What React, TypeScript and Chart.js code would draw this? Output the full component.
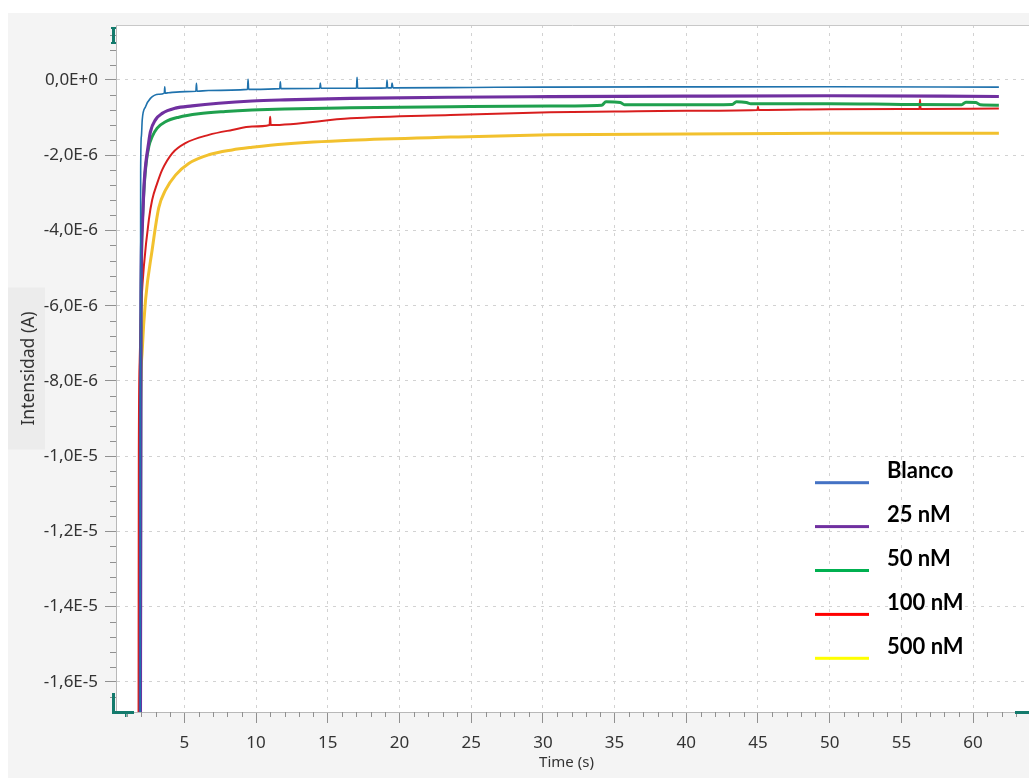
import React, { useEffect, useRef } from "react";
import { Chart, registerables } from "chart.js";

Chart.register(...registerables);

// ---- data (time in s, current in µA) ----
const seriesNames = ["Blanco", "25 nM", "50 nM", "100 nM", "500 nM"];
const lineColors = ["#1f72ad", "#7030a0", "#1fa04e", "#d81e1e", "#f2c12e"];
const legendColors = ["#4472c4", "#7030a0", "#00b050", "#ff0000", "#ffff00"];
const lineWidths = [1.6, 3.2, 3, 2, 3];

const blancoT = [1.92, 1.95, 2.0, 2.06, 2.29, 2.63, 3.21, 3.6, 3.63, 3.66, 3.91, 5.07, 5.8, 5.84, 5.88, 6.68, 9.4, 9.44, 9.48, 9.72, 11.65, 11.69, 11.73, 14.44, 14.48, 14.52, 17.0, 17.04, 17.08, 19.09, 19.13, 19.17, 19.44, 19.48, 19.55, 25, 30, 40, 50, 61.8];
const blancoI = [-18, -2.4, -1.5, -1.06, -0.71, -0.49, -0.38, -0.35, -0.18, -0.35, -0.34, -0.31, -0.3, -0.09, -0.3, -0.28, -0.25, 0.02, -0.25, -0.25, -0.23, -0.05, -0.23, -0.22, -0.08, -0.22, -0.22, 0.07, -0.22, -0.21, 0.0, -0.21, -0.21, -0.08, -0.21, -0.2, -0.19, -0.185, -0.18, -0.19];

const nM25T = [1.93, 1.97, 2.05, 2.2, 2.33, 2.47, 2.63, 2.98, 3.45, 4.38, 5.54, 7.39, 9.72, 12, 16.58, 23.55, 30.5, 40, 50, 61.8];
const nM25I = [-18, -6.0, -4.0, -2.7, -2.15, -1.77, -1.38, -1.06, -0.89, -0.75, -0.69, -0.62, -0.56, -0.53, -0.49, -0.46, -0.445, -0.43, -0.42, -0.44];

const nM50T = [1.93, 1.97, 2.1, 2.2, 2.33, 2.52, 2.75, 3.1, 3.68, 4.61, 6.0, 7.86, 9.72, 12, 16.58, 23.55, 30.5, 34.1, 34.4, 35.4, 35.7, 40, 43.2, 43.5, 44.2, 44.5, 50, 55, 59.2, 59.5, 60.2, 60.5, 61.8];
const nM50I = [-18, -7, -3.5, -2.8, -2.22, -1.77, -1.51, -1.28, -1.11, -0.99, -0.9, -0.84, -0.8, -0.77, -0.74, -0.71, -0.69, -0.67, -0.58, -0.6, -0.66, -0.66, -0.65, -0.58, -0.6, -0.63, -0.63, -0.65, -0.66, -0.59, -0.6, -0.66, -0.67];

const nM100T = [1.8, 1.82, 1.88, 1.95, 2.01, 2.17, 2.52, 2.75, 3.1, 3.45, 4.15, 5.07, 6.7, 8.33, 9.72, 10.94, 10.98, 11.02, 16.58, 23.55, 30.5, 35, 40, 44.96, 45.0, 45.04, 50, 55, 56.26, 56.3, 56.34, 61.8];
const nM100I = [-18, -10, -7.5, -6.4, -5.85, -4.97, -3.72, -3.19, -2.75, -2.39, -1.95, -1.68, -1.46, -1.33, -1.24, -1.2, -0.98, -1.2, -1.02, -0.93, -0.86, -0.84, -0.82, -0.8, -0.71, -0.8, -0.78, -0.77, -0.77, -0.53, -0.77, -0.76];

const nM500T = [1.89, 1.92, 1.94, 2.06, 2.29, 2.75, 3.21, 3.68, 4.38, 5.3, 6.7, 8.33, 9.72, 12, 16.58, 23.55, 30.5, 40, 50, 61.8];
const nM500I = [-18, -10, -8.69, -7.18, -5.85, -4.52, -3.4, -2.93, -2.53, -2.22, -1.99, -1.86, -1.79, -1.7, -1.6, -1.52, -1.46, -1.44, -1.42, -1.42];

const seriesT = [blancoT, nM25T, nM50T, nM100T, nM500T];
const seriesI = [blancoI, nM25I, nM50I, nM100I, nM500I];

const xTickValues = [5, 10, 15, 20, 25, 30, 35, 40, 45, 50, 55, 60];
const yTickValues = [0, -2e-6, -4e-6, -6e-6, -8e-6, -1e-5, -1.2e-5, -1.4e-5, -1.6e-5];
const yTickLabels = ["0,0E+0", "-2,0E-6", "-4,0E-6", "-6,0E-6", "-8,0E-6", "-1,0E-5", "-1,2E-5", "-1,4E-5", "-1,6E-5"];
const xTitle = "Time (s)";
const yTitle = "Intensidad (A)";

const FONT = "'Noto Sans', 'Open Sans', sans-serif";

const decorPlugin = {
  id: "decor",
  beforeDraw(chart: any) {
    const { ctx, chartArea: a } = chart;
    ctx.save();
    const cy = (a.top + a.bottom) / 2;
    ctx.fillStyle = "#ececec";
    ctx.fillRect(0, cy - 81, 37, 162);
    ctx.fillStyle = "#ffffff";
    ctx.fillRect(a.left, a.top, a.right - a.left, a.bottom - a.top);
    ctx.restore();
  },
  afterDraw(chart: any) {
    const { ctx, chartArea: a, scales } = chart;
    const xs = scales.x;
    const ys = scales.y;
    ctx.save();
    // minor ticks
    ctx.strokeStyle = "#909090";
    ctx.lineWidth = 1;
    ctx.beginPath();
    for (let v = 1; v <= 64; v++) {
      if (v % 5 === 0) continue;
      const px = Math.round(xs.getPixelForValue(v)) + 0.5;
      if (px < a.left || px > a.right) continue;
      ctx.moveTo(px, a.bottom);
      ctx.lineTo(px, a.bottom + 5);
    }
    for (let k = -45; k <= 5; k++) {
      if (k % 5 === 0) continue;
      const py = Math.round(ys.getPixelForValue(k * 0.4e-6)) + 0.5;
      if (py < a.top || py > a.bottom) continue;
      ctx.moveTo(a.left - 6, py);
      ctx.lineTo(a.left, py);
    }
    ctx.stroke();
    // top border
    ctx.strokeStyle = "#c8c8c8";
    ctx.beginPath();
    ctx.moveTo(a.left, a.top + 0.5);
    ctx.lineTo(a.right, a.top + 0.5);
    ctx.stroke();
    // teal range handles
    ctx.fillStyle = "#137a6c";
    ctx.fillRect(a.left - 4, a.top + 2, 3, 17);
    ctx.fillRect(a.left - 5, a.top + 2, 5, 2);
    ctx.fillRect(a.left - 5, a.top + 17, 5, 2);
    ctx.fillRect(a.left - 4, a.bottom - 19, 3, 21);
    ctx.fillRect(a.left - 4, a.bottom - 1, 22, 3);
    ctx.fillRect(a.left + 9, a.bottom, 1.5, 5);
    ctx.fillRect(a.right - 14, a.bottom - 1, 14, 3);
    // x title (drawn manually to match position)
    ctx.font = "15px " + FONT;
    ctx.fillStyle = "#333333";
    ctx.textAlign = "center";
    ctx.textBaseline = "middle";
    ctx.fillText(xTitle, (a.left + a.right) / 2 - 6, a.bottom + 51);
    // legend
    ctx.font = "bold 22px Lato, 'Open Sans', sans-serif";
    ctx.textBaseline = "alphabetic";
    ctx.textAlign = "left";
    for (let i = 0; i < seriesNames.length; i++) {
      const ly = a.top + 457.7 + i * 43.9;
      ctx.fillStyle = legendColors[i];
      ctx.fillRect(a.left + 699, ly - 1.5, 54, 3);
      ctx.fillStyle = "#000000";
      ctx.fillText(seriesNames[i], a.left + 771, a.top + 453 + i * 43.9);
    }
    ctx.restore();
  },
};

export default function App() {
  const ref = useRef<HTMLCanvasElement | null>(null);
  useEffect(() => {
    if (!ref.current) return;
    const datasets = seriesNames.map((name, i) => ({
      label: name,
      data: seriesT[i].map((t, j) => ({ x: t, y: seriesI[i][j] * 1e-6 })),
      borderColor: lineColors[i],
      backgroundColor: lineColors[i],
      borderWidth: lineWidths[i],
      pointRadius: 0,
      fill: false,
      cubicInterpolationMode: "monotone" as const,
    }));
    const chart = new Chart(ref.current, {
      type: "line",
      data: { datasets },
      options: {
        animation: false,
        responsive: false,
        devicePixelRatio: 1,
        layout: { padding: { top: 12, left: 0, right: 0, bottom: 0 } },
        plugins: { legend: { display: false }, tooltip: { enabled: false } },
        scales: {
          x: {
            type: "linear",
            min: 0.23,
            max: 63.9,
            afterBuildTicks: (s: any) => {
              s.ticks = xTickValues.map((v) => ({ value: v }));
            },
            afterFit: (s: any) => {
              s.height = 66;
              s.paddingLeft = 0;
              s.paddingRight = 0;
            },
            grid: {
              color: "#d2d2d2",
              lineWidth: 1,
              tickColor: "#909090",
              tickLength: 11,
              tickBorderDash: [],
            },
            border: { display: true, color: "#b8b8b8", dash: [3, 5] },
            ticks: {
              autoSkip: false,
              maxRotation: 0,
              padding: 10,
              color: "#333333",
              font: { family: FONT, size: 17 },
              callback: (v: any) => String(v),
            },
            title: { display: false, text: xTitle },
          },
          y: {
            type: "linear",
            min: -1.68e-5,
            max: 1.46e-6,
            afterBuildTicks: (s: any) => {
              s.ticks = yTickValues.map((v) => ({ value: v }));
            },
            afterFit: (s: any) => {
              s.width = 108;
              s.paddingTop = 0;
              s.paddingBottom = 0;
            },
            grid: {
              color: "#d2d2d2",
              lineWidth: 1,
              tickColor: "#909090",
              tickLength: 11,
              tickBorderDash: [],
            },
            border: { display: true, color: "#b8b8b8", dash: [3, 5] },
            ticks: {
              autoSkip: false,
              padding: 7,
              color: "#333333",
              font: { family: FONT, size: 17 },
              callback: (_v: any, i: number) => yTickLabels[i],
            },
            title: {
              display: true,
              text: yTitle,
              color: "#333333",
              font: { family: FONT, size: 17.5 },
              padding: { top: 11, bottom: 0 },
            },
          },
        },
      },
      plugins: [decorPlugin],
    });
    return () => chart.destroy();
  }, []);
  return (
    <div
      style={{
        position: "absolute",
        left: 8,
        top: 13,
        width: 1021,
        height: 765,
        background: "#f4f4f4",
      }}
    >
      <canvas ref={ref} width={1021} height={765} style={{ display: "block" }} />
    </div>
  );
}
